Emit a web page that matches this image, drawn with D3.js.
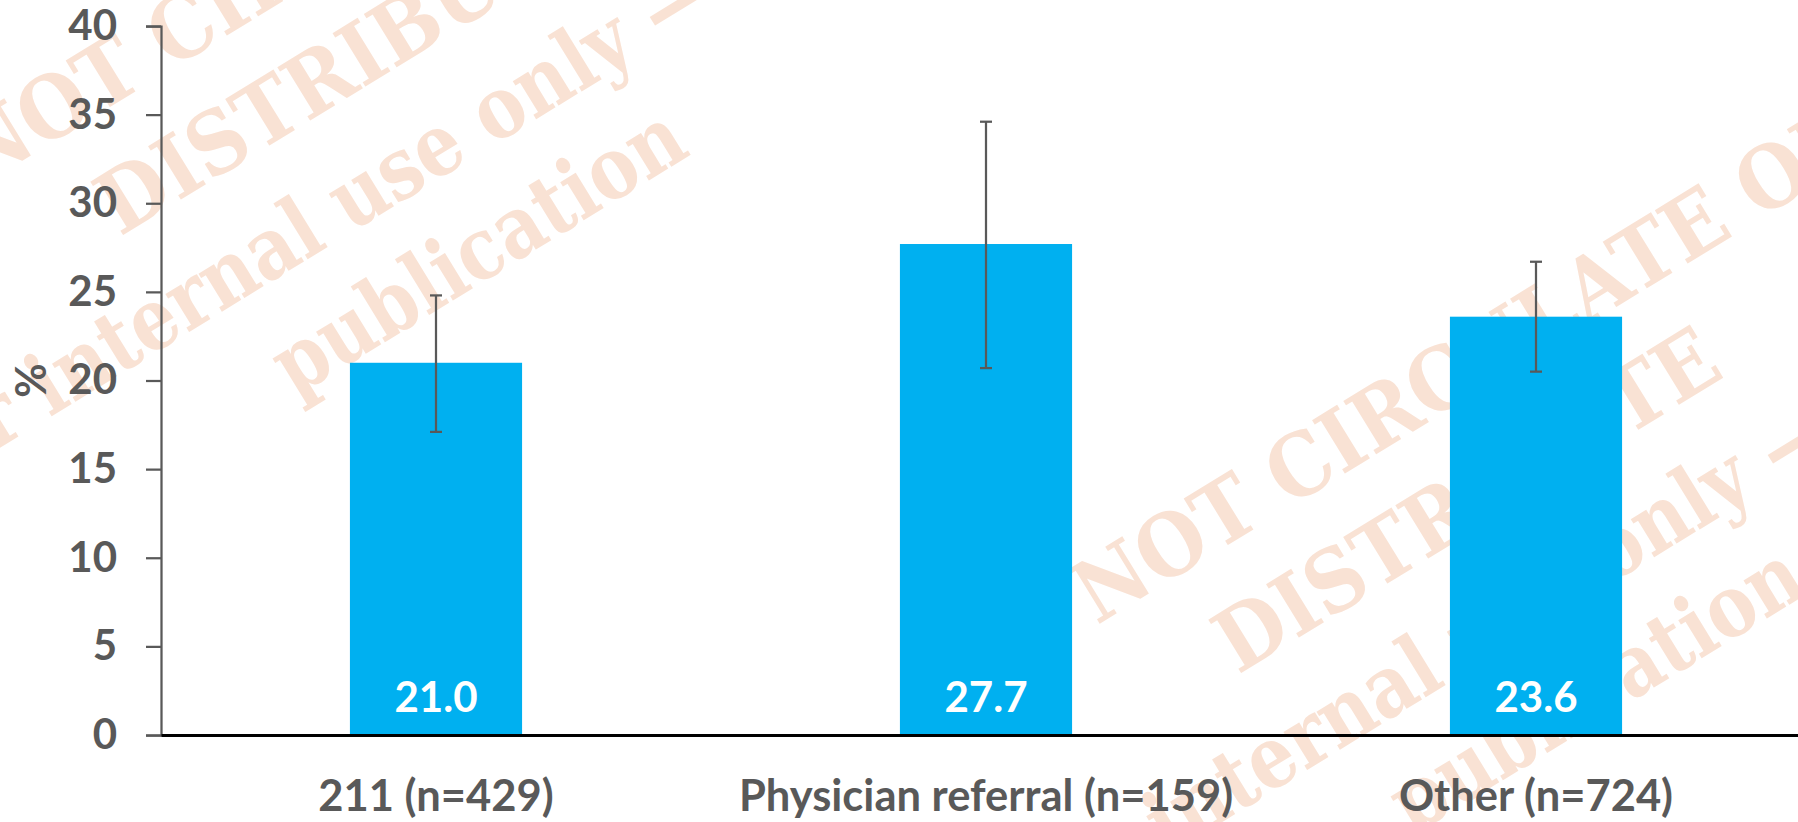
<!DOCTYPE html>
<html>
<head>
<meta charset="utf-8">
<script src="https://cdn.jsdelivr.net/npm/d3@7"></script>
<style>
  html, body { margin: 0; padding: 0; background: #ffffff; }
  svg { display: block; }
</style>
</head>
<body>
<div id="chart"></div>
<script>
// ---------- data ----------
const categories = ["211 (n=429)", "Physician referral (n=159)", "Other (n=724)"];
const values = [21.0, 27.7, 23.6];
const ciLower = [17.1, 20.7, 20.5];
const ciUpper = [24.8, 34.6, 26.7];
const yTicks = [0, 5, 10, 15, 20, 25, 30, 35, 40];
const yLabel = "%";
const watermarkLines = ["DO NOT CIRCULATE OR", "DISTRIBUTE", "For internal use only \u2014", "publication"];

// ---------- layout ----------
const W = 1798, H = 822;
const axisX = 161, y0 = 735, yTop = 26;
const textColor = "#595959";
const barColor = "#00B0F0";
const font = "Lato, 'Open Sans', sans-serif";

const svg = d3.select("#chart").append("svg")
  .attr("width", W).attr("height", H);

// ---------- watermark (behind everything) ----------
const wm = svg.append("g").attr("class", "watermark");
const wmScaleX = [0.91, 0.91, 0.85, 0.85];
const wmLineAlong = [-258, 0, -315, 65];
const wmLinePerp = [-116, 0, 117, 228];
const stampOrigins = [[120, 237], [1238, 675]];
stampOrigins.forEach(o => {
  const g = wm.append("g").attr("transform", `translate(${o[0]},${o[1]}) rotate(-31.5)`);
  g.selectAll("text").data(watermarkLines).join("text")
    .attr("transform", (d, i) => `translate(${wmLineAlong[i]},${wmLinePerp[i]}) scale(${wmScaleX[i]},1)`)
    .attr("font-family", "'DejaVu Serif', 'Liberation Serif', serif")
    .attr("font-weight", "bold")
    .attr("font-size", 86)
    .attr("fill", "#F9E2D4")
    .text(d => d);
});

// ---------- scales ----------
const x = d3.scaleBand()
  .domain(categories)
  .range([axisX, axisX + 1650])
  .paddingInner(0.687)
  .paddingOuter(0.3435);

const y = d3.scaleLinear().domain([0, 40]).range([y0, yTop]);

const data = categories.map((c, i) => ({ c, v: values[i], lo: ciLower[i], hi: ciUpper[i] }));

// ---------- bars ----------
svg.append("g").selectAll("rect").data(data).join("rect")
  .attr("x", d => x(d.c))
  .attr("y", d => y(d.v))
  .attr("width", x.bandwidth())
  .attr("height", d => y(0) - y(d.v))
  .attr("fill", barColor);

// ---------- error bars ----------
const eb = svg.append("g").attr("stroke", textColor).attr("stroke-width", 2.25);
const cx = d => x(d.c) + x.bandwidth() / 2;
eb.selectAll("line.v").data(data).join("line").attr("class", "v")
  .attr("x1", cx).attr("x2", cx)
  .attr("y1", d => y(d.hi)).attr("y2", d => y(d.lo));
eb.selectAll("line.t").data(data).join("line").attr("class", "t")
  .attr("x1", d => cx(d) - 6).attr("x2", d => cx(d) + 6)
  .attr("y1", d => y(d.hi)).attr("y2", d => y(d.hi));
eb.selectAll("line.b").data(data).join("line").attr("class", "b")
  .attr("x1", d => cx(d) - 6).attr("x2", d => cx(d) + 6)
  .attr("y1", d => y(d.lo)).attr("y2", d => y(d.lo));

// ---------- value labels ----------
svg.append("g").selectAll("text").data(data).join("text")
  .attr("x", cx)
  .attr("y", y0 - 23)
  .attr("text-anchor", "middle")
  .attr("font-family", font)
  .attr("font-weight", "bold")
  .attr("font-size", 42)
  .attr("fill", "#ffffff")
  .text(d => d.v.toFixed(1));

// ---------- y axis ----------
const yAxis = svg.append("g")
  .attr("transform", `translate(${axisX},0)`)
  .call(d3.axisLeft(y).tickValues(yTicks).tickSize(15).tickPadding(29).tickFormat(d3.format("d")));
yAxis.select(".domain").attr("stroke", textColor).attr("stroke-width", 2.25);
yAxis.selectAll(".tick line").attr("stroke", textColor).attr("stroke-width", 2.25);
yAxis.selectAll(".tick text")
  .attr("font-family", font)
  .attr("font-weight", "bold")
  .attr("font-size", 42)
  .attr("fill", textColor);

// ---------- x axis ----------
const xAxis = svg.append("g")
  .attr("transform", `translate(0,${y0})`)
  .call(d3.axisBottom(x).tickSize(0).tickSizeOuter(0));
xAxis.select(".domain").attr("stroke", "#000000").attr("stroke-width", 3);
xAxis.selectAll(".tick text")
  .attr("y", 76).attr("dy", 0)
  .attr("font-family", font)
  .attr("font-weight", "bold")
  .attr("font-size", 43.5)
  .attr("fill", textColor);

// ---------- y label ----------
svg.append("text")
  .attr("transform", `translate(46,${(y0 + yTop) / 2}) rotate(-90)`)
  .attr("text-anchor", "middle")
  .attr("font-family", font)
  .attr("font-weight", "bold")
  .attr("font-size", 42)
  .attr("fill", textColor)
  .text(yLabel);
</script>
</body>
</html>
